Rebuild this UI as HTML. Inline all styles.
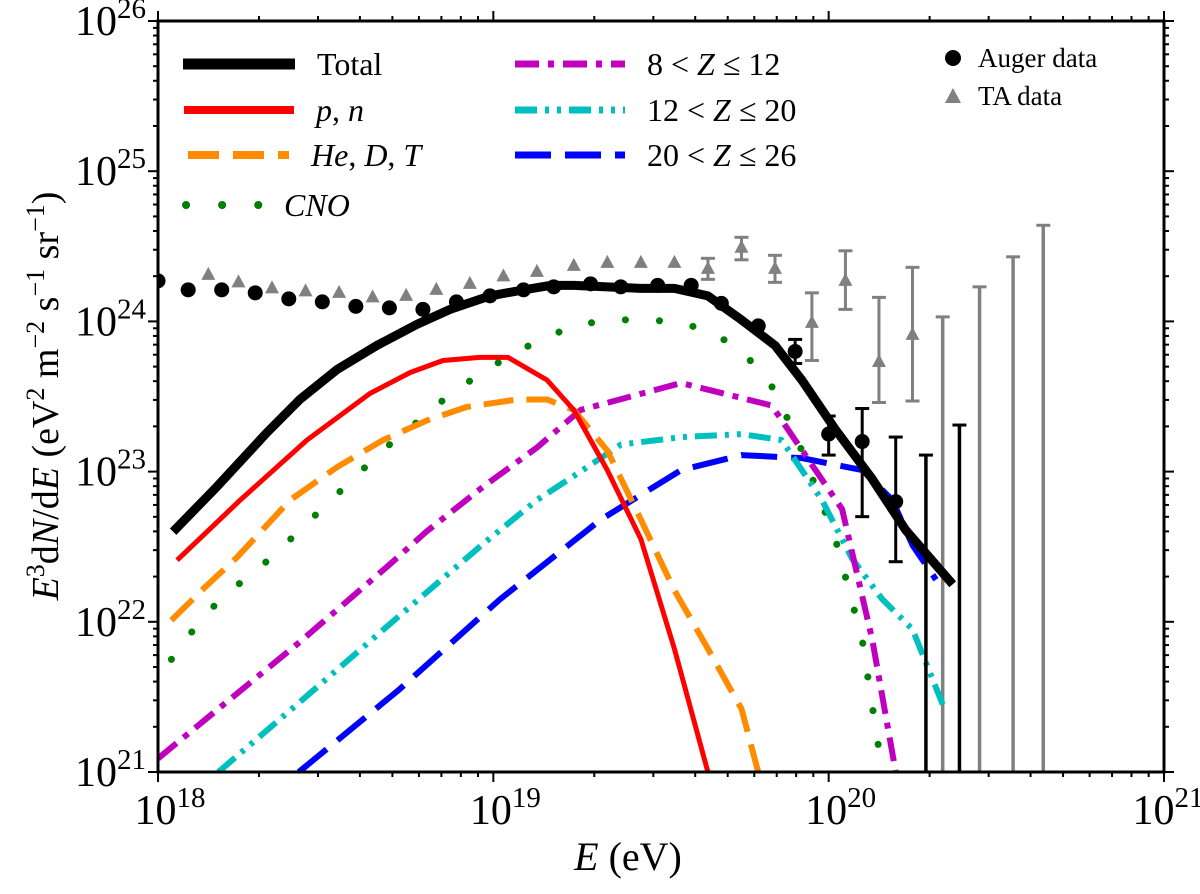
<!DOCTYPE html>
<html><head><meta charset="utf-8"><style>
body{margin:0;background:#fff}
svg text{font-family:"Liberation Serif",serif;fill:#000}
</style></head><body>
<svg id="chart" width="1200" height="889" viewBox="0 0 1200 889" xmlns="http://www.w3.org/2000/svg"></svg>
<script>
// ---- data (log10 E, log10 flux) ----
const totalE=[18.045,18.176,18.325,18.423,18.534,18.653,18.772,18.871,18.99,19.089,19.17,19.24,19.34,19.44,19.54,19.64,19.74,19.84,19.92,20.02,20.13,20.23,20.37];
const totalF=[22.60,22.90,23.26,23.48,23.68,23.84,23.98,24.08,24.17,24.21,24.24,24.24,24.23,24.22,24.22,24.17,24.01,23.84,23.61,23.28,22.95,22.61,22.25];
const pnE=[18.057,18.245,18.444,18.632,18.752,18.85,18.96,19.044,19.16,19.24,19.34,19.44,19.54,19.64];
const pnF=[22.41,22.81,23.21,23.52,23.66,23.74,23.76,23.76,23.61,23.41,23.01,22.55,21.82,21.0];
const heE=[18.04,18.14,18.236,18.394,18.534,18.671,18.802,18.92,19.07,19.16,19.24,19.34,19.44,19.54,19.64,19.74,19.79];
const heF=[22.01,22.23,22.43,22.81,23.03,23.21,23.34,23.43,23.48,23.48,23.41,23.14,22.68,22.21,21.82,21.42,21.0];
const cnoE=[18.04,18.14,18.24,18.334,18.409,18.483,18.558,18.632,18.71,18.79,18.868,18.954,19.04,19.133,19.24,19.34,19.44,19.54,19.64,19.74,19.84,19.92,20.02,20.10,20.16];
const cnoF=[21.75,22.05,22.25,22.42,22.58,22.74,22.90,23.06,23.22,23.36,23.51,23.64,23.76,23.87,23.97,24.01,24.01,24.0,23.94,23.81,23.54,23.14,22.55,21.88,21.0];
const mgE=[18.0,18.12,18.42,18.69,18.80,18.97,19.13,19.26,19.56,19.83,20.04,20.13,20.2];
const mgF=[21.09,21.31,21.86,22.38,22.60,22.90,23.16,23.41,23.59,23.44,22.75,21.88,21.0];
const cyE=[18.18,18.42,18.72,18.97,19.13,19.26,19.38,19.56,19.74,19.86,19.98,20.07,20.16,20.25,20.34];
const cyF=[21.0,21.46,22.04,22.52,22.81,23.0,23.18,23.23,23.25,23.21,22.81,22.42,22.15,21.95,21.45];
const blE=[18.42,18.72,19.02,19.32,19.56,19.74,19.92,20.1,20.19,20.25,20.32];
const blF=[21.0,21.55,22.15,22.68,23.01,23.11,23.09,23.01,22.81,22.51,22.28];
const augerE=[18.0,18.09,18.19,18.29,18.39,18.49,18.59,18.69,18.79,18.89,18.99,19.09,19.18,19.29,19.38,19.49,19.59,19.68,19.79,19.9,20.0,20.1,20.2];
const augerF=[24.27,24.21,24.21,24.19,24.15,24.13,24.1,24.09,24.08,24.13,24.17,24.21,24.23,24.25,24.23,24.24,24.24,24.12,23.97,23.80,23.25,23.2,22.8];
const augerLo=[0,0,0,0,0,0,0,0,0,0,0,0,0,0,0,0,0,0,0,0.08,0.14,0.5,0.4];
const augerHi=[0,0,0,0,0,0,0,0,0,0,0,0,0,0,0,0,0,0,0,0.08,0.12,0.22,0.43];
const augerUlE=[20.29,20.39];
const augerUlF=[23.11,23.31];
const taE=[18.15,18.24,18.34,18.44,18.54,18.64,18.74,18.83,18.93,19.03,19.13,19.24,19.34,19.44,19.54,19.64,19.74,19.84,19.95,20.05,20.15,20.25];
const taF=[24.31,24.26,24.22,24.2,24.19,24.16,24.17,24.21,24.25,24.3,24.33,24.37,24.39,24.39,24.39,24.35,24.49,24.35,23.99,24.27,23.73,23.91];
const taLo=[0,0,0,0,0,0,0,0,0,0,0,0,0,0,0,0.07,0.08,0.09,0.25,0.19,0.27,0.44];
const taHi=[0,0,0,0,0,0,0,0,0,0,0,0,0,0,0,0.07,0.07,0.09,0.2,0.2,0.43,0.45];
const taUlE=[20.34,20.45,20.55,20.64];
const taUlF=[24.03,24.23,24.43,24.64];
const xTicks=[18,19,20,21];
const yTicks=[21,22,23,24,25,26];

const X0=158,X1=1164,Y0=772,Y1=21;
const sx=v=>X0+(v-18)/3*(X1-X0);
const sy=v=>Y0-(v-21)/5*(Y0-Y1);
const svg=document.getElementById('chart');
const NS='http://www.w3.org/2000/svg';
function mk(tag,attrs,parent){const e=document.createElementNS(NS,tag);for(const k in attrs)e.setAttribute(k,attrs[k]);(parent||svg).appendChild(e);return e;}

const defs=mk('defs',{});
const cp=mk('clipPath',{id:'clip'},defs);
mk('rect',{x:X0,y:Y1,width:X1-X0,height:Y0-Y1},cp);
const plot=mk('g',{'clip-path':'url(#clip)'});



function line(E,F,name,color,w,dash,cap){
  const d=E.map((e,i)=>(i?'L':'M')+sx(e).toFixed(1)+','+sy(F[i]).toFixed(1)).join('');
  const p=mk('path',{d:d,fill:'none',stroke:color,'stroke-width':w,'stroke-linejoin':'round','stroke-linecap':cap||'butt'},plot);
  if(dash)p.setAttribute('stroke-dasharray',dash);
  
  
}
function errs(E,F,lo,hi,color,name){
  E.forEach((e,i)=>{if(lo[i]||hi[i]){
    const l=mk('line',{x1:sx(e),x2:sx(e),y1:sy(F[i]-lo[i]),y2:sy(F[i]+hi[i]),stroke:color,'stroke-width':3},plot);
    
    
    mk('line',{x1:sx(e)-7,x2:sx(e)+7,y1:sy(F[i]-lo[i]),y2:sy(F[i]-lo[i]),stroke:color,'stroke-width':3},plot);
    mk('line',{x1:sx(e)-7,x2:sx(e)+7,y1:sy(F[i]+hi[i]),y2:sy(F[i]+hi[i]),stroke:color,'stroke-width':3},plot);
  }});
}
function ul(E,F,color,name){
  E.forEach((e,i)=>{
    const l=mk('line',{x1:sx(e),x2:sx(e),y1:sy(F[i]),y2:Y0+5,stroke:color,'stroke-width':3.5},plot);
    
    
    mk('line',{x1:sx(e)-7,x2:sx(e)+7,y1:sy(F[i]),y2:sy(F[i]),stroke:color,'stroke-width':3},plot);
  });
}
errs(taE,taF,taLo,taHi,'#808080','ta-error-bar');
ul(taUlE,taUlF,'#808080','ta-upper-limit');
taE.forEach((e,i)=>{const x=sx(e),y=sy(taF[i]);
  const t=mk('polygon',{points:`${x},${y-8} ${x-7},${y+5} ${x+7},${y+5}`,fill:'#808080'},plot);
  
  });

line(cnoE,cnoF,'cno-line','#008000',7,'0.1 34','round');
line(blE,blF,'z20-26-line','#0000ff',6,'36 14');
line(cyE,cyF,'z12-20-line','#00bfbf',6,'22 8 4 8 4 8');
line(mgE,mgF,'z8-12-line','#bf00bf',6,'24 9 6 9');
line(heE,heF,'he-d-t-line','#ff8c00',6,'30 13');
line(pnE,pnF,'p-n-line','#ff0000',5);
line(totalE,totalF,'total-line','#000',9);

errs(augerE,augerF,augerLo,augerHi,'#000','auger-error-bar');
ul(augerUlE,augerUlF,'#000','auger-upper-limit');
augerE.forEach((e,i)=>{const c=mk('circle',{cx:sx(e),cy:sy(augerF[i]),r:7.5,fill:'#000'},plot);
  
  });

const fr=mk('rect',{x:X0,y:Y1,width:X1-X0,height:Y0-Y1,fill:'none',stroke:'#000','stroke-width':3});


for(let d=18;d<=21;d++){
  for(let m=1;m<=9;m++){
    const v=d+Math.log10(m); if(v>21)break;
    const x=sx(v),L=m==1?10:5;
    mk('line',{x1:x,x2:x,y1:Y0,y2:Y0+L,stroke:'#000','stroke-width':2});
    mk('line',{x1:x,x2:x,y1:Y1,y2:Y1-L,stroke:'#000','stroke-width':2});
  }
}
for(let d=21;d<=26;d++){
  for(let m=1;m<=9;m++){
    const v=d+Math.log10(m); if(v>26)break;
    const y=sy(v),L=m==1?10:5;
    mk('line',{x1:X0,x2:X0-L,y1:y,y2:y,stroke:'#000','stroke-width':2});
    mk('line',{x1:X1,x2:X1+L,y1:y,y2:y,stroke:'#000','stroke-width':2});
  }
}
function tlabel(x,y,exp,anchor,name){
  const t=mk('text',{x:x,y:y,'font-size':42,'text-anchor':anchor});
  
  
  t.appendChild(document.createTextNode('10'));
  const s=mk('tspan',{dy:-17,'font-size':29},t);s.textContent=exp;
}
xTicks.forEach(v=>tlabel(sx(v)+(v==21?4:12),Y0+52,v,'middle','x-tick-label'));
yTicks.forEach(v=>tlabel(X0-12,sy(v)+14,v,'end','y-tick-label'));

const xt=mk('text',{x:628,y:870,'font-size':40,'text-anchor':'middle'});


xt.innerHTML='<tspan font-style="italic">E</tspan> (eV)';
const yt=mk('text',{x:0,y:0,'font-size':38,'text-anchor':'middle',transform:'translate(58,396) rotate(-90)'});


yt.innerHTML='<tspan font-style="italic">E</tspan><tspan dy="-14" font-size="26">3</tspan><tspan dy="14">d</tspan><tspan font-style="italic">N</tspan>/d<tspan font-style="italic">E</tspan> (eV<tspan dy="-14" font-size="26">2</tspan><tspan dy="14"> m</tspan><tspan dy="-14" font-size="26">−2</tspan><tspan dy="14"> s</tspan><tspan dy="-14" font-size="26">−1</tspan><tspan dy="14"> sr</tspan><tspan dy="-14" font-size="26">−1</tspan><tspan dy="14">)</tspan>';

const leg=mk('g',{});


function lent(x1,x2,y,color,w,dash,cap,label,name,italic){
  const g=mk('g',{},leg);
  
  
  const l=mk('line',{x1:x1,x2:x2,y1:y,y2:y,stroke:color,'stroke-width':w,'stroke-linecap':cap||'butt'},g);
  if(dash)l.setAttribute('stroke-dasharray',dash);
  const t=mk('text',{x:x2+22,y:y+11,'font-size':32},g);
  if(italic)t.setAttribute('font-style','italic');
  t.innerHTML=label;
}
lent(183,295,64,'#000',11,null,null,'Total','legend-total');
lent(184,294,110,'#ff0000',8,null,null,'<tspan font-style="italic">p</tspan>, <tspan font-style="italic">n</tspan>','legend-p-n');
lent(188,289,155,'#ff8c00',8,'31 14',null,'<tspan font-style="italic">He</tspan>, <tspan font-style="italic">D</tspan>, <tspan font-style="italic">T</tspan>','legend-he');
lent(186,262,205,'#008000',8,'0.1 36','round','CNO','legend-cno',true);
lent(515,625,64,'#bf00bf',7,'24 9 6 9',null,'8 &lt; <tspan font-style="italic">Z</tspan> ≤ 12','legend-z8-12');
lent(515,625,110,'#00bfbf',7,'22 8 4 8 4 8',null,'12 &lt; <tspan font-style="italic">Z</tspan> ≤ 20','legend-z12-20');
lent(515,625,155,'#0000ff',7,'36 14',null,'20 &lt; <tspan font-style="italic">Z</tspan> ≤ 26','legend-z20-26');
const ga=mk('g',{},leg);


mk('circle',{cx:953,cy:58,r:8,fill:'#000'},ga);
const ta1=mk('text',{x:978,y:67,'font-size':27},ga);ta1.textContent='Auger data';
const gt=mk('g',{},leg);


mk('polygon',{points:'953,88 945,103 961,103',fill:'#808080'},gt);
const ta2=mk('text',{x:978,y:105,'font-size':27},gt);ta2.textContent='TA data';
</script>
</body></html>
